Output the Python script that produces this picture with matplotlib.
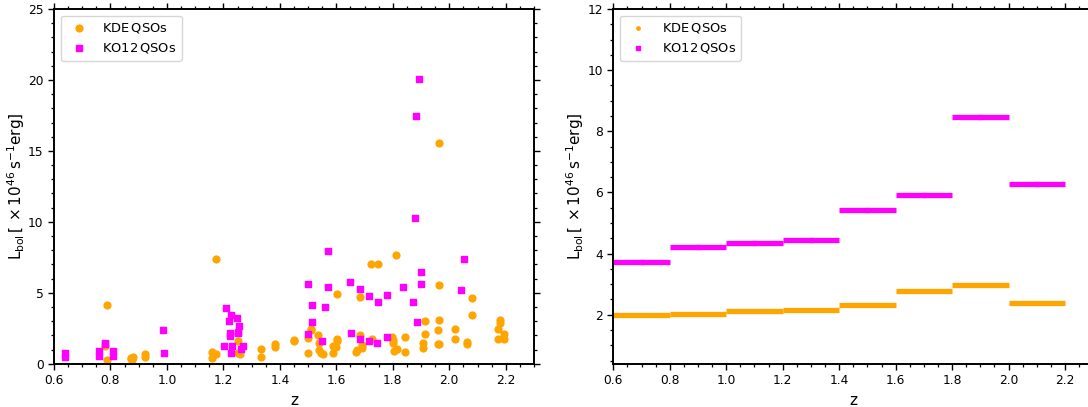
import matplotlib

matplotlib.use("Agg")
import matplotlib.pyplot as plt
import numpy as np
from matplotlib.ticker import MultipleLocator

# --- Data ---
# left panel: individual quasars (redshift, L_bol in 1e46 erg/s)
kde_z = [
    0.781, 0.789, 0.789, 0.871, 0.873, 0.878, 0.881, 0.922, 0.922,
    1.161, 1.161, 1.173, 1.172, 1.253, 1.253, 1.257, 1.332, 1.332,
    1.384, 1.384, 1.451, 1.451, 1.501, 1.501, 1.510, 1.510, 1.535,
    1.538, 1.539, 1.545, 1.551, 1.588, 1.589, 1.598, 1.602, 1.602,
    1.602, 1.671, 1.672, 1.683, 1.683, 1.690, 1.690, 1.724, 1.725,
    1.749, 1.798, 1.800, 1.801, 1.803, 1.814, 1.813, 1.842, 1.842,
    1.908, 1.908, 1.913, 1.915, 1.959, 1.959, 1.963, 1.963, 1.963,
    1.963, 2.019, 2.019, 2.063, 2.063, 2.081, 2.081, 2.174, 2.174,
    2.180, 2.180, 2.195, 2.195,
]
kde_L = [
    1.25, 4.14, 0.26, 0.30, 0.38, 0.24, 0.49, 0.66, 0.45,
    0.80, 0.38, 0.68, 7.36, 1.62, 0.78, 0.68, 1.04, 0.49,
    1.39, 1.20, 1.67, 1.60, 1.83, 0.78, 2.45, 2.35, 2.00,
    1.44, 0.97, 0.78, 0.66, 0.73, 1.27, 1.20, 1.74, 1.58,
    4.89, 0.85, 0.95, 2.04, 4.70, 1.32, 1.08, 7.05, 1.74,
    7.05, 1.86, 1.67, 1.44, 0.92, 1.01, 7.64, 1.86, 0.80,
    1.48, 1.13, 2.99, 2.11, 2.35, 1.39, 1.42, 3.08, 5.57,
    15.57, 2.42, 1.72, 1.55, 1.37, 4.61, 3.43, 2.42, 1.72,
    3.06, 2.85, 2.11, 1.72,
]
ko12_z = [
    0.639, 0.639, 0.760, 0.760, 0.781, 0.781, 0.810, 0.810, 0.987,
    0.990, 1.202, 1.208, 1.220, 1.223, 1.223, 1.226, 1.226, 1.230,
    1.248, 1.253, 1.253, 1.256, 1.262, 1.270, 1.501, 1.501, 1.513,
    1.513, 1.548, 1.560, 1.572, 1.572, 1.650, 1.652, 1.683, 1.683,
    1.716, 1.716, 1.745, 1.749, 1.780, 1.780, 1.836, 1.871, 1.880,
    1.882, 1.886, 1.893, 1.901, 1.901, 2.043, 2.052,
]
ko12_L = [
    0.78, 0.49, 0.90, 0.54, 1.48, 1.38, 0.90, 0.54, 2.35,
    0.75, 1.25, 3.92, 3.01, 2.14, 1.95, 3.41, 0.78, 1.25,
    3.22, 2.26, 2.14, 2.66, 1.01, 1.25, 5.62, 2.07, 4.14,
    2.96, 1.58, 4.02, 7.96, 5.41, 5.73, 2.19, 5.26, 1.74,
    4.79, 1.60, 1.48, 4.37, 4.86, 1.88, 5.38, 4.33, 10.29,
    17.43, 2.96, 20.08, 6.46, 5.64, 5.22, 7.36,
]

# right panel: binned values
bin_edges = [0.6, 0.8, 1.0, 1.2, 1.4, 1.6, 1.8, 2.0, 2.2]
kde_bin = [1.99, 2.01, 2.13, 2.17, 2.31, 2.78, 2.96, 2.40]
ko12_bin = [3.71, 4.22, 4.35, 4.44, 5.44, 5.93, 8.48, 6.27]

ORANGE = "orange"
MAGENTA = "magenta"
YLABEL = r"$\rm L_{bol}\,[\,\times10^{46}\,s^{-1}erg]$"
LAB_KDE = r"$\rm KDE\,QSOs$"
LAB_KO12 = r"$\rm KO12\,QSOs$"

W, H = 1088, 407
fig = plt.figure(figsize=(W / 100, H / 100), dpi=100)

# axes placement in pixels (left, bottom, width, height)
ax1 = fig.add_axes([54 / W, 43.3 / H, 480 / W, 354.7 / H])
ax2 = fig.add_axes([613.3 / W, 43.3 / H, 480 / W, 354.7 / H])


def style_axes(ax):
    for sp in ax.spines.values():
        sp.set_linewidth(1.4)
    ax.tick_params(which="both", direction="out", top=True, right=True,
                   labelsize=8.8)
    ax.tick_params(which="major", length=4, width=1.0)
    ax.tick_params(which="minor", length=2.2, width=0.9)
    ax.set_xlabel("z", fontsize=11)
    ax.set_ylabel(YLABEL, fontsize=11, labelpad=1)


# --- Left: scatter of individual QSOs ---
ax1.scatter(kde_z, kde_L, s=24, marker="o", c=ORANGE, label=LAB_KDE,
            zorder=2)
ax1.scatter(ko12_z, ko12_L, s=24, marker="s", c=MAGENTA, label=LAB_KO12,
            zorder=3)
ax1.set_xlim(0.6, 2.3)
ax1.set_ylim(0, 25)
ax1.xaxis.set_major_locator(MultipleLocator(0.2))
ax1.xaxis.set_minor_locator(MultipleLocator(0.05))
ax1.yaxis.set_major_locator(MultipleLocator(5))
ax1.yaxis.set_minor_locator(MultipleLocator(1))
style_axes(ax1)
ax1.legend(loc="upper left", fontsize=9.4)

# --- Right: binned medians ---
edges = np.array(bin_edges)
centres = 0.5 * (edges[:-1] + edges[1:])
ax2.scatter(centres, kde_bin, s=6, marker="o", c=ORANGE, label=LAB_KDE,
            zorder=1)
ax2.scatter(centres, ko12_bin, s=6, marker="s", c=MAGENTA, label=LAB_KO12,
            zorder=1)
ax2.hlines(kde_bin, edges[:-1], edges[1:], colors=ORANGE, linewidth=3.8,
           zorder=2)
ax2.hlines(ko12_bin, edges[:-1], edges[1:], colors=MAGENTA, linewidth=3.8,
           zorder=2)
ax2.set_xlim(0.6, 2.3)
ax2.set_ylim(0.4, 12)
ax2.xaxis.set_major_locator(MultipleLocator(0.2))
ax2.xaxis.set_minor_locator(MultipleLocator(0.05))
ax2.yaxis.set_major_locator(MultipleLocator(2))
ax2.yaxis.set_minor_locator(MultipleLocator(0.5))
style_axes(ax2)
ax2.legend(loc="upper left", fontsize=9.4)

fig.savefig("out.png", dpi=100)
plt.close(fig)
